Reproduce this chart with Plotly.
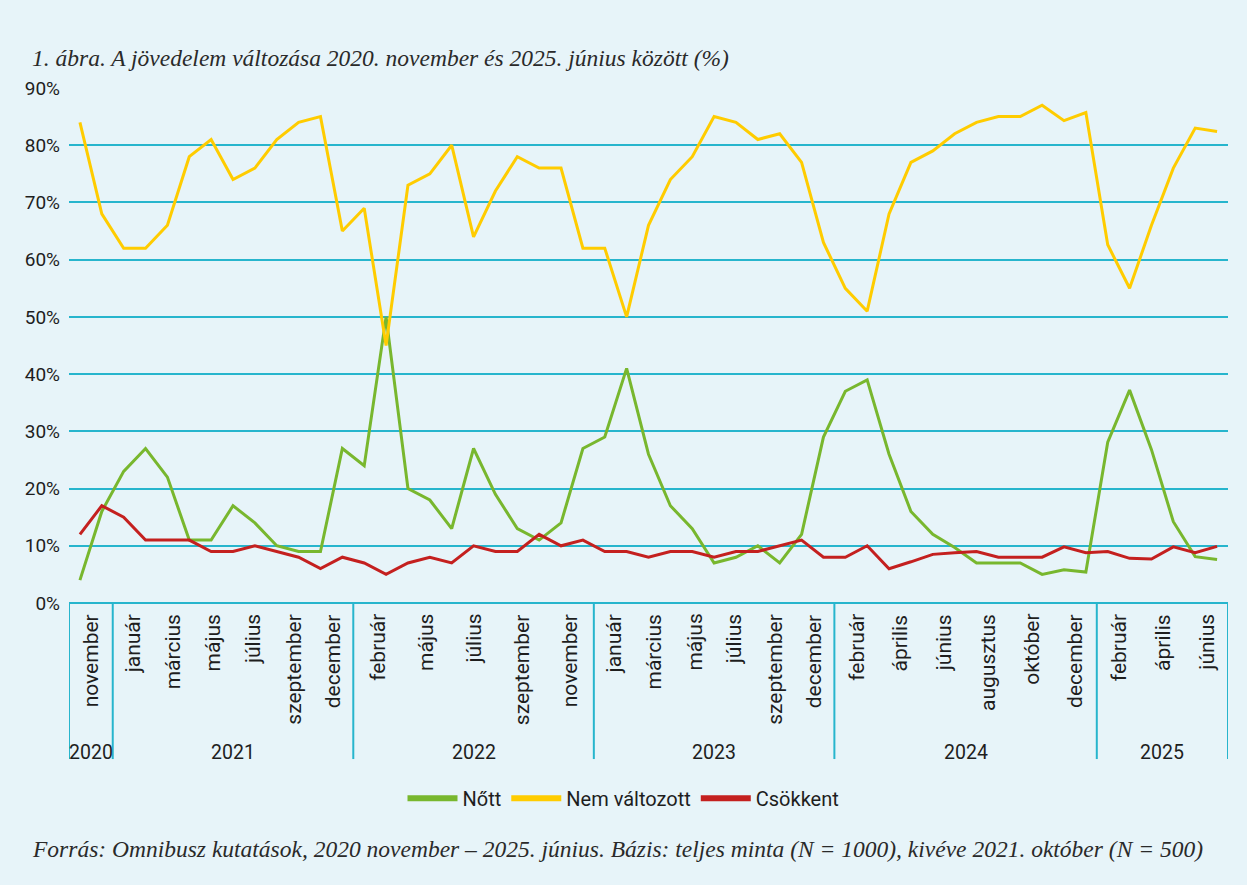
import plotly.graph_objects as go

# ---------------- data ----------------
years = ["2020"] * 2 + ["2021"] * 11 + ["2022"] * 11 + ["2023"] * 11 + ["2024"] * 12 + ["2025"] * 6

months = [
    "november", "december",
    "január", "február", "március", "április", "május", "június", "július", "augusztus",
    "szeptember", "október", "december",
    "január", "február", "március", "május", "június", "július", "augusztus", "szeptember",
    "október", "november", "december",
    "január", "február", "március", "április", "május", "június", "július", "augusztus",
    "szeptember", "október", "december",
    "január", "február", "március", "április", "május", "június", "július", "augusztus",
    "szeptember", "október", "november", "december",
    "január", "február", "március", "április", "május", "június",
]

nott = [
    4, 16,
    23, 27, 22, 11, 11, 17, 14, 10, 9, 9, 27,
    24, 50, 20, 18, 13, 27, 19, 13, 11, 14, 27,
    29, 41, 26, 17, 13, 7, 8, 10, 7, 12, 29,
    37, 39, 26, 16, 12, 9.7, 7, 7, 7, 5, 5.8, 5.4,
    28.1, 37.2, 26.8, 14.2, 8.1, 7.6,
]

nem_valtozott = [
    84, 68,
    62, 62, 66, 78, 81, 74, 76, 81, 84, 85, 65,
    69, 45, 73, 75, 80, 64, 72, 78, 76, 76, 62,
    62, 50, 66, 74, 78, 85, 84, 81, 82, 77, 63,
    55, 51, 68, 77, 79, 82, 84, 85, 85, 87, 84.3, 85.7,
    62.6, 55, 66, 76, 83, 82.4,
]

csokkent = [
    12, 17,
    15, 11, 11, 11, 9, 9, 10, 9, 8, 6, 8,
    7, 5, 7, 8, 7, 10, 9, 9, 12, 10, 11,
    9, 9, 8, 9, 9, 8, 9, 9, 10, 11, 8,
    8, 10, 6, 7.2, 8.5, 8.8, 9, 8, 8, 8, 9.8, 8.8,
    9, 7.8, 7.7, 9.8, 8.8, 9.9,
]

series_names = ["Nőtt", "Nem változott", "Csökkent"]
series_values = [nott, nem_valtozott, csokkent]
series_colors = ["#78B72E", "#FFCC00", "#C4201F"]

title_text = "1. ábra. A jövedelem változása 2020. november és 2025. június között (%)"
source_text = ("Forrás: Omnibusz kutatások, 2020 november – 2025. június. Bázis: teljes minta "
               "(N = 1000), kivéve 2021. október (N = 500)")

# ---------------- style ----------------
BG = "#E7F4F9"
TEAL = "#27B5CD"
TXT = "#1E1E1E"
SANS = "Roboto, 'Open Sans', sans-serif"
SERIF = "'Liberation Serif', 'DejaVu Serif', serif"

x = list(range(len(months)))

fig = go.Figure()
for name, vals, col in zip(series_names, series_values, series_colors):
    fig.add_trace(go.Scatter(x=x, y=vals, mode="lines", name=name, showlegend=False,
                             line=dict(color=col, width=3), hoverinfo="y+name"))
# legend-only samples (thicker lines as in the reference legend)
for name, col in zip(series_names, series_colors):
    fig.add_trace(go.Scatter(x=[None], y=[None], mode="lines", name=name,
                             line=dict(color=col, width=6)))

# ---------------- grouped category axis ----------------
groups = []
for yr in dict.fromkeys(years):
    idx = [i for i, v in enumerate(years) if v == yr]
    groups.append((yr, idx[0] - 0.5, idx[-1] + 0.5, idx))

shapes = []
annotations = []
bounds = [g[1] for g in groups] + [groups[-1][2]]
for b in bounds:
    shapes.append(dict(type="line", xref="x", yref="paper", x0=b, x1=b, y0=0, y1=-0.303,
                       line=dict(color=TEAL, width=2)))

for yr, b0, b1, idx in groups:
    labelled = [i for i in idx if i % 2 == 0]
    n = len(labelled)
    for k, i in enumerate(labelled):
        pos = b0 + (k + 0.5) * (b1 - b0) / n
        annotations.append(dict(x=pos, xref="x", y=0, yref="y", yshift=-9,
                                text=months[i], textangle=-90, showarrow=False,
                                xanchor="center", yanchor="top",
                                font=dict(family=SANS, size=21, color=TXT)))
    annotations.append(dict(x=(b0 + b1) / 2, xref="x", y=-0.29, yref="paper",
                            text=yr, showarrow=False, xanchor="center", yanchor="middle",
                            font=dict(family=SANS, size=19.5, color=TXT)))

annotations.append(dict(x=-0.034, xref="paper", y=1.058, yref="paper", text=title_text,
                        showarrow=False, xanchor="left", yanchor="middle",
                        font=dict(family=SERIF, size=23.5, color="#2a2a2a", style="italic")))
annotations.append(dict(x=-0.034, xref="paper", y=-0.478, yref="paper", text=source_text,
                        showarrow=False, xanchor="left", yanchor="middle",
                        font=dict(family=SERIF, size=23.5, color="#2a2a2a", style="italic")))

fig.update_layout(
    width=1247, height=885,
    margin=dict(l=69, r=19, t=88, b=282),
    paper_bgcolor=BG, plot_bgcolor=BG,
    shapes=shapes, annotations=annotations,
    showlegend=True,
    legend=dict(orientation="h", xref="container", yref="container", x=0.5, y=0.098,
                xanchor="center", yanchor="middle", bgcolor="rgba(0,0,0,0)",
                font=dict(family=SANS, size=20, color=TXT), itemwidth=50,
                traceorder="normal"),
    xaxis=dict(range=[-0.5, len(months) - 0.5], showgrid=False, zeroline=False,
               showline=False, showticklabels=False, ticks=""),
    yaxis=dict(range=[0, 90], dtick=10, ticksuffix="%", showgrid=True, gridcolor=TEAL,
               gridwidth=2, zeroline=True, zerolinecolor=TEAL, zerolinewidth=2,
               showline=False, ticks="", ticklabelstandoff=8,
               tickfont=dict(family=SANS, size=19, color=TXT)),
    hovermode="closest",
)

fig.write_html("out.html", config={"displayModeBar": False},
               post_script="document.body.style.margin='0';")
